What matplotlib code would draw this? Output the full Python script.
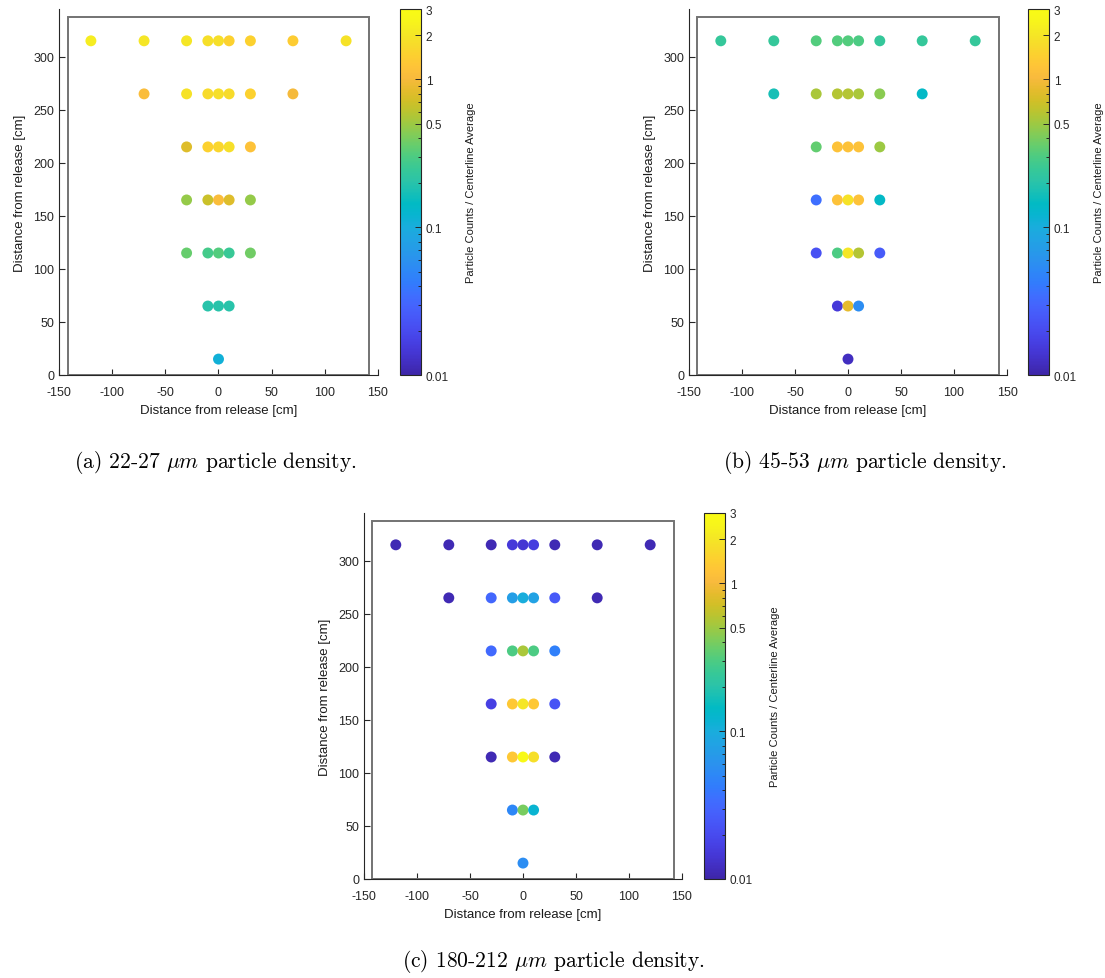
import numpy as np
import matplotlib
matplotlib.use("Agg")
import matplotlib.pyplot as plt
from matplotlib.colors import LinearSegmentedColormap, LogNorm
from matplotlib.patches import Rectangle

plt.rcParams['font.family'] = ['Liberation Sans', 'DejaVu Sans']
plt.rcParams['mathtext.fontset'] = 'cm'
plt.rcParams['axes.unicode_minus'] = False

# ---------------- data ----------------
row_y = [315, 265, 215, 165, 115, 65, 15]
row_x = [
    [-120, -70, -30, -10, 0, 10, 30, 70, 120],
    [-70, -30, -10, 0, 10, 30, 70],
    [-30, -10, 0, 10, 30],
    [-30, -10, 0, 10, 30],
    [-30, -10, 0, 10, 30],
    [-10, 0, 10],
    [0],
]

vals_a = [
    [2.2, 2.0, 2.0, 1.8, 1.8, 1.5, 1.5, 1.4, 1.9],
    [1.1, 1.9, 1.7, 1.8, 1.7, 1.5, 1.0],
    [0.8, 1.5, 1.6, 1.8, 1.2],
    [0.48, 0.68, 1.1, 0.8, 0.48],
    [0.36, 0.28, 0.31, 0.25, 0.38],
    [0.2, 0.2, 0.2],
    [0.11],
]
vals_b = [
    [0.24, 0.24, 0.31, 0.31, 0.31, 0.3, 0.24, 0.24, 0.24],
    [0.17, 0.55, 0.58, 0.58, 0.55, 0.45, 0.14],
    [0.35, 1.2, 1.2, 1.2, 0.5],
    [0.035, 1.2, 1.9, 1.2, 0.14],
    [0.022, 0.3, 2.0, 0.58, 0.026],
    [0.015, 0.85, 0.055],
    [0.012],
]
vals_c = [
    [0.011, 0.011, 0.011, 0.015, 0.014, 0.016, 0.011, 0.011, 0.011],
    [0.011, 0.031, 0.075, 0.1, 0.08, 0.025, 0.011],
    [0.032, 0.3, 0.55, 0.3, 0.045],
    [0.017, 1.3, 2.0, 1.3, 0.023],
    [0.011, 1.3, 2.8, 1.8, 0.011],
    [0.05, 0.4, 0.12],
    [0.055],
]

captions = ["(a) 22-27 $\\mu m$ particle density.",
            "(b) 45-53 $\\mu m$ particle density.",
            "(c) 180-212 $\\mu m$ particle density."]
cbar_ticks = [0.01, 0.1, 0.5, 1, 2, 3]
cbar_ticklabels = ['0.01', '0.1', '0.5', '1', '2', '3']
x_ticks = [-150, -100, -50, 0, 50, 100, 150]
y_ticks = [0, 50, 100, 150, 200, 250, 300]

# ---------------- parula colormap (MATLAB R2014b) ----------------
parula_pts = [
    [0.2422, 0.1504, 0.6603], [0.2578, 0.1818, 0.7511], [0.2706, 0.2147, 0.8364],
    [0.2783, 0.2559, 0.8991], [0.2813, 0.3006, 0.9414], [0.2795, 0.3447, 0.9717],
    [0.2699, 0.3892, 0.9906], [0.2440, 0.4358, 0.9988], [0.1963, 0.4847, 0.9892],
    [0.1786, 0.5289, 0.9682], [0.1687, 0.5703, 0.9359], [0.1460, 0.6091, 0.9079],
    [0.1248, 0.6459, 0.8883], [0.0952, 0.6798, 0.8598], [0.0297, 0.7082, 0.8163],
    [0.0067, 0.7312, 0.7660], [0.0964, 0.7500, 0.7120], [0.1717, 0.7670, 0.6554],
    [0.2161, 0.7843, 0.5923], [0.2906, 0.7973, 0.5188], [0.3909, 0.8029, 0.4354],
    [0.5044, 0.7993, 0.3480], [0.6174, 0.7876, 0.2612], [0.7242, 0.7698, 0.1910],
    [0.8203, 0.7498, 0.1535], [0.9035, 0.7330, 0.1774], [0.9728, 0.7298, 0.2394],
    [0.9970, 0.7659, 0.2199], [0.9892, 0.8136, 0.1885], [0.9676, 0.8639, 0.1643],
    [0.9597, 0.9135, 0.1423], [0.9691, 0.9606, 0.1064], [0.9769, 0.9839, 0.0805],
]
parula = LinearSegmentedColormap.from_list('parula', parula_pts, N=256)
norm = LogNorm(vmin=0.01, vmax=3)

W, H = 1105, 979
fig = plt.figure(figsize=(W / 100, H / 100), dpi=100)

def fx(px):
    return px / W

def fy(py):
    return 1 - py / H

panels = [
    (59, 378, 10, 376, 400, 215, 462, vals_a, captions[0]),
    (689, 1007, 10, 376, 1028, 865, 462, vals_b, captions[1]),
    (364, 682, 514, 880, 704, 553, 962, vals_c, captions[2]),
]

for (l, r, t, b, cbl, cx, cy, vals, cap) in panels:
    ax = fig.add_axes([fx(l), fy(b), fx(r - l), (b - t) / H])
    xs = [x for row in row_x for x in row]
    ys = [y for y, row in zip(row_y, row_x) for _ in row]
    cs = [v for row in vals for v in row]
    ax.scatter(xs, ys, c=cs, cmap=parula, norm=norm, s=62, edgecolors='none', zorder=3)
    ax.set_xlim(-150, 150)
    ax.set_ylim(0, 345)
    ax.set_xticks(x_ticks)
    ax.set_yticks(y_ticks)
    ax.tick_params(direction='in', length=4, labelsize=9, colors='0.15', width=0.8)
    ax.tick_params(axis='x', pad=8)
    for s in ['top', 'right']:
        ax.spines[s].set_visible(False)
    for s in ['left', 'bottom']:
        ax.spines[s].set_color('0.15')
        ax.spines[s].set_linewidth(0.8)
    ax.add_patch(Rectangle((-142, 0), 284, 337, fill=False, ec='0.45', lw=1.4,
                           clip_on=False, zorder=2))
    ax.set_xlabel('Distance from release [cm]', fontsize=9.5, color='0.1', labelpad=4)
    ax.set_ylabel('Distance from release [cm]', fontsize=9.5, color='0.1', labelpad=5)

    cax = fig.add_axes([fx(cbl), fy(b), fx(21), (b - t) / H])
    sm = matplotlib.cm.ScalarMappable(norm=norm, cmap=parula)
    cb = fig.colorbar(sm, cax=cax)
    cb.set_ticks(cbar_ticks)
    cb.set_ticklabels(cbar_ticklabels)
    cb.ax.tick_params(which='both', direction='in', labelsize=8.5, colors='0.15', width=0.7)
    cb.ax.tick_params(which='major', length=4)
    cb.ax.tick_params(which='minor', length=2.5)
    cb.outline.set_edgecolor('0.15')
    cb.outline.set_linewidth(0.8)
    cb.set_label('Particle Counts / Centerline Average', fontsize=8, color='0.1', labelpad=12)

    fig.text(fx(cx), fy(cy), cap, ha='center', va='center', fontsize=15.5,
             family='cmr10')

fig.savefig('out.png', dpi=100)
